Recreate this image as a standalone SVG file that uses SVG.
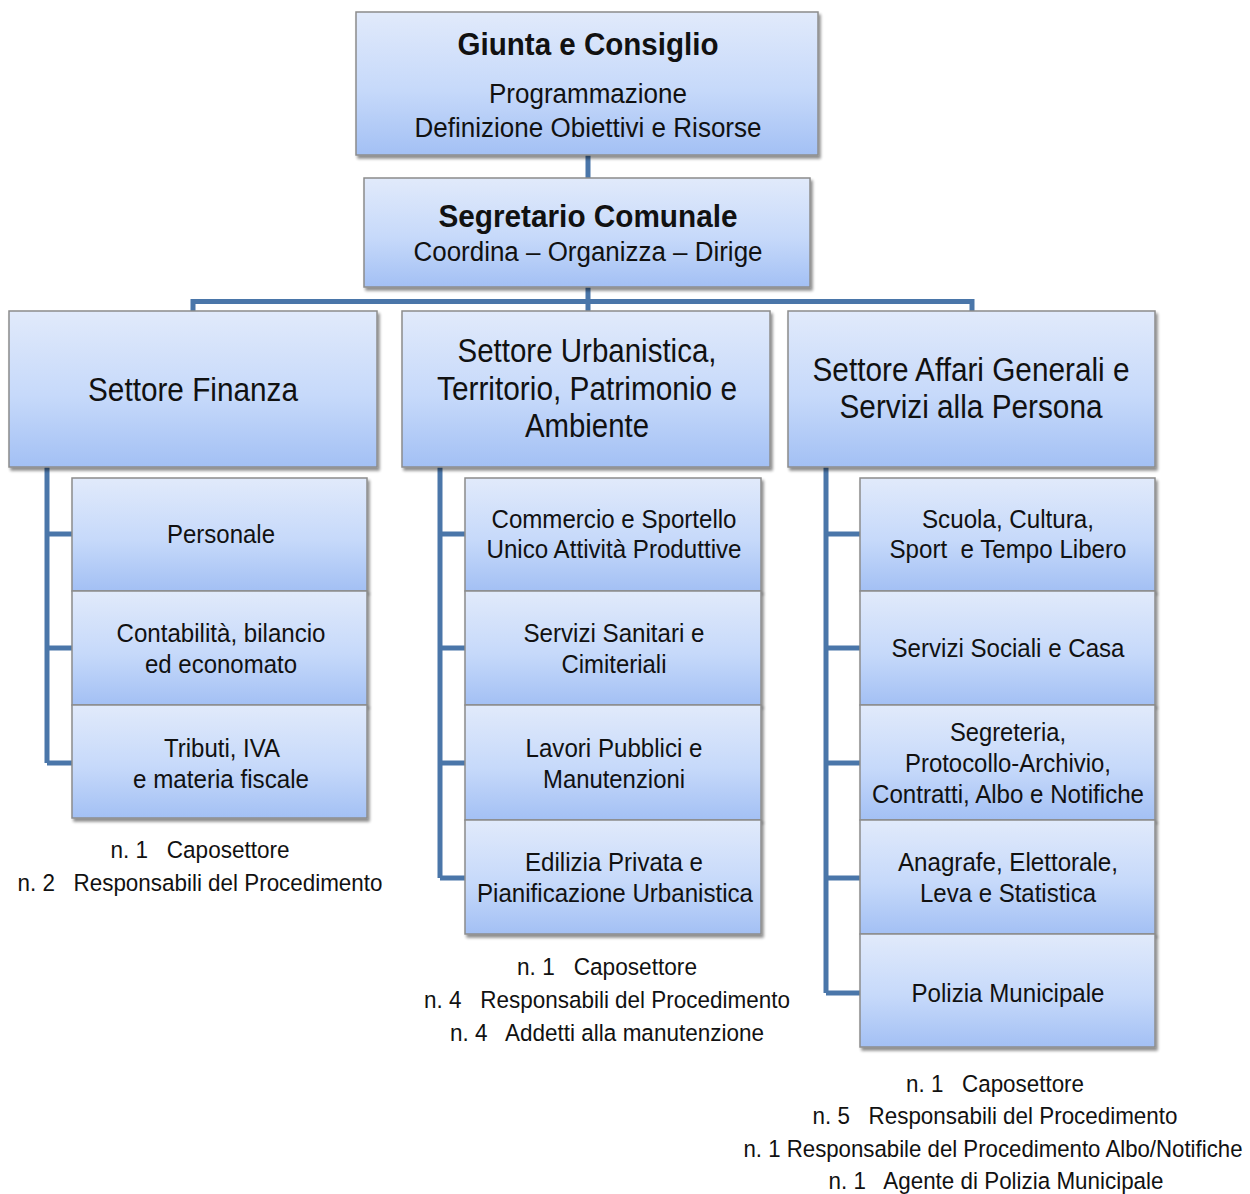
<svg xmlns="http://www.w3.org/2000/svg" width="1250" height="1194" viewBox="0 0 1250 1194">
<defs>
<linearGradient id="g" x1="0" y1="0" x2="0" y2="1">
<stop offset="0" stop-color="#e1eafb"/>
<stop offset="0.55" stop-color="#c6d9fa"/>
<stop offset="1" stop-color="#a3c0f4"/>
</linearGradient>
<filter id="sh" x="-5%" y="-5%" width="112%" height="115%">
<feGaussianBlur in="SourceAlpha" stdDeviation="1.5"/>
<feOffset dx="2" dy="3"/>
<feComponentTransfer><feFuncA type="linear" slope="0.45"/></feComponentTransfer>
<feMerge><feMergeNode/><feMergeNode in="SourceGraphic"/></feMerge>
</filter>
</defs>
<style>
.box{fill:url(#g);stroke:#8c8c8c;stroke-width:1.5;filter:url(#sh)}
.t{font-family:"Liberation Sans",Arial,sans-serif;fill:#111;text-anchor:middle;white-space:pre}
.b{font-weight:bold;font-size:31px}
.h{font-size:27px}
.s{font-size:33px}
.m{font-size:25.5px}
.f{font-size:24.5px}
.c{fill:none;stroke:#4a76a9;stroke-width:5}
</style>
<g id="connectors">
<path class="c" d="M588 155V178M588 287V301.5M193 311V301.5H972V311M588 301.5V311"/>
<path class="c" d="M47 467V763M47 534H72M47 648H72M47 763H72"/>
<path class="c" d="M440 467V878M440 534H465M440 648H465M440 763H465M440 878H465"/>
<path class="c" d="M826 467V993M826 534H860M826 648H860M826 763H860M826 878H860M826 993H860"/>
</g>
<g id="giunta"><rect class="box" x="356" y="12" width="462" height="143"/>
<text class="t b" x="588" y="55" textLength="261" lengthAdjust="spacingAndGlyphs">Giunta e Consiglio</text>
<text class="t h" x="588" y="103" textLength="198" lengthAdjust="spacingAndGlyphs">Programmazione</text>
<text class="t h" x="588" y="137" textLength="347" lengthAdjust="spacingAndGlyphs">Definizione Obiettivi e Risorse</text></g>
<g id="segretario"><rect class="box" x="364" y="178" width="446" height="109"/>
<text class="t b" x="588" y="227" textLength="299" lengthAdjust="spacingAndGlyphs">Segretario Comunale</text>
<text class="t h" x="588" y="261" textLength="349" lengthAdjust="spacingAndGlyphs">Coordina – Organizza – Dirige</text></g>
<g id="finanza"><rect class="box" x="9" y="311" width="368" height="156"/>
<text class="t s" x="193" y="401" textLength="210" lengthAdjust="spacingAndGlyphs">Settore Finanza</text></g>
<g id="urbanistica"><rect class="box" x="402" y="311" width="368" height="156"/>
<text class="t s" x="587" y="362" textLength="259" lengthAdjust="spacingAndGlyphs">Settore Urbanistica,</text>
<text class="t s" x="587" y="400" textLength="300" lengthAdjust="spacingAndGlyphs">Territorio, Patrimonio e</text>
<text class="t s" x="587" y="437" textLength="124" lengthAdjust="spacingAndGlyphs">Ambiente</text></g>
<g id="affari"><rect class="box" x="788" y="311" width="367" height="156"/>
<text class="t s" x="971" y="381" textLength="317" lengthAdjust="spacingAndGlyphs">Settore Affari Generali e</text>
<text class="t s" x="971" y="418" textLength="263" lengthAdjust="spacingAndGlyphs">Servizi alla Persona</text></g>
<g id="personale"><rect class="box" x="72" y="478" width="295" height="113"/>
<text class="t m" x="221" y="543" textLength="108" lengthAdjust="spacingAndGlyphs">Personale</text></g>
<g id="contabilita"><rect class="box" x="72" y="591" width="295" height="114"/>
<text class="t m" x="221" y="642" textLength="209" lengthAdjust="spacingAndGlyphs">Contabilità, bilancio</text>
<text class="t m" x="221" y="673" textLength="152" lengthAdjust="spacingAndGlyphs">ed economato</text></g>
<g id="tributi"><rect class="box" x="72" y="705" width="295" height="113"/>
<text class="t m" x="222" y="757" textLength="116" lengthAdjust="spacingAndGlyphs">Tributi, IVA</text>
<text class="t m" x="221" y="788" textLength="176" lengthAdjust="spacingAndGlyphs">e materia fiscale</text></g>
<g id="commercio"><rect class="box" x="465" y="478" width="296" height="113"/>
<text class="t m" x="614" y="528" textLength="245" lengthAdjust="spacingAndGlyphs">Commercio e Sportello</text>
<text class="t m" x="614" y="558" textLength="255" lengthAdjust="spacingAndGlyphs">Unico Attività Produttive</text></g>
<g id="sanitari"><rect class="box" x="465" y="591" width="296" height="114"/>
<text class="t m" x="614" y="642" textLength="181" lengthAdjust="spacingAndGlyphs">Servizi Sanitari e</text>
<text class="t m" x="614" y="673" textLength="105" lengthAdjust="spacingAndGlyphs">Cimiteriali</text></g>
<g id="lavori"><rect class="box" x="465" y="705" width="296" height="115"/>
<text class="t m" x="614" y="757" textLength="177" lengthAdjust="spacingAndGlyphs">Lavori Pubblici e</text>
<text class="t m" x="614" y="788" textLength="142" lengthAdjust="spacingAndGlyphs">Manutenzioni</text></g>
<g id="edilizia"><rect class="box" x="465" y="820" width="296" height="114"/>
<text class="t m" x="614" y="871" textLength="178" lengthAdjust="spacingAndGlyphs">Edilizia Privata e</text>
<text class="t m" x="615" y="902" textLength="276" lengthAdjust="spacingAndGlyphs">Pianificazione Urbanistica</text></g>
<g id="scuola"><rect class="box" x="860" y="478" width="295" height="113"/>
<text class="t m" x="1008" y="528" textLength="172" lengthAdjust="spacingAndGlyphs">Scuola, Cultura,</text>
<text class="t m" x="1008" y="558" textLength="237" lengthAdjust="spacingAndGlyphs">Sport  e Tempo Libero</text></g>
<g id="sociali"><rect class="box" x="860" y="591" width="295" height="114"/>
<text class="t m" x="1008" y="657" textLength="233" lengthAdjust="spacingAndGlyphs">Servizi Sociali e Casa</text></g>
<g id="segreteria"><rect class="box" x="860" y="705" width="295" height="115"/>
<text class="t m" x="1008" y="741" textLength="116" lengthAdjust="spacingAndGlyphs">Segreteria,</text>
<text class="t m" x="1008" y="772" textLength="206" lengthAdjust="spacingAndGlyphs">Protocollo-Archivio,</text>
<text class="t m" x="1008" y="803" textLength="272" lengthAdjust="spacingAndGlyphs">Contratti, Albo e Notifiche</text></g>
<g id="anagrafe"><rect class="box" x="860" y="820" width="295" height="114"/>
<text class="t m" x="1008" y="871" textLength="220" lengthAdjust="spacingAndGlyphs">Anagrafe, Elettorale,</text>
<text class="t m" x="1008" y="902" textLength="176" lengthAdjust="spacingAndGlyphs">Leva e Statistica</text></g>
<g id="polizia"><rect class="box" x="860" y="934" width="295" height="113"/>
<text class="t m" x="1008" y="1002" textLength="193" lengthAdjust="spacingAndGlyphs">Polizia Municipale</text></g>
<g id="note-finanza">
<text class="t f" x="200" y="858" textLength="179" lengthAdjust="spacingAndGlyphs">n. 1   Caposettore</text>
<text class="t f" x="200" y="891" textLength="365" lengthAdjust="spacingAndGlyphs">n. 2   Responsabili del Procedimento</text></g>
<g id="note-urbanistica">
<text class="t f" x="607" y="975" textLength="180" lengthAdjust="spacingAndGlyphs">n. 1   Caposettore</text>
<text class="t f" x="607" y="1008" textLength="366" lengthAdjust="spacingAndGlyphs">n. 4   Responsabili del Procedimento</text>
<text class="t f" x="607" y="1041" textLength="314" lengthAdjust="spacingAndGlyphs">n. 4   Addetti alla manutenzione</text></g>
<g id="note-affari">
<text class="t f" x="995" y="1092" textLength="178" lengthAdjust="spacingAndGlyphs">n. 1   Caposettore</text>
<text class="t f" x="995" y="1124" textLength="365" lengthAdjust="spacingAndGlyphs">n. 5   Responsabili del Procedimento</text>
<text class="t f" x="993" y="1157" textLength="499" lengthAdjust="spacingAndGlyphs">n. 1 Responsabile del Procedimento Albo/Notifiche</text>
<text class="t f" x="996" y="1189" textLength="335" lengthAdjust="spacingAndGlyphs">n. 1   Agente di Polizia Municipale</text></g>
</svg>
